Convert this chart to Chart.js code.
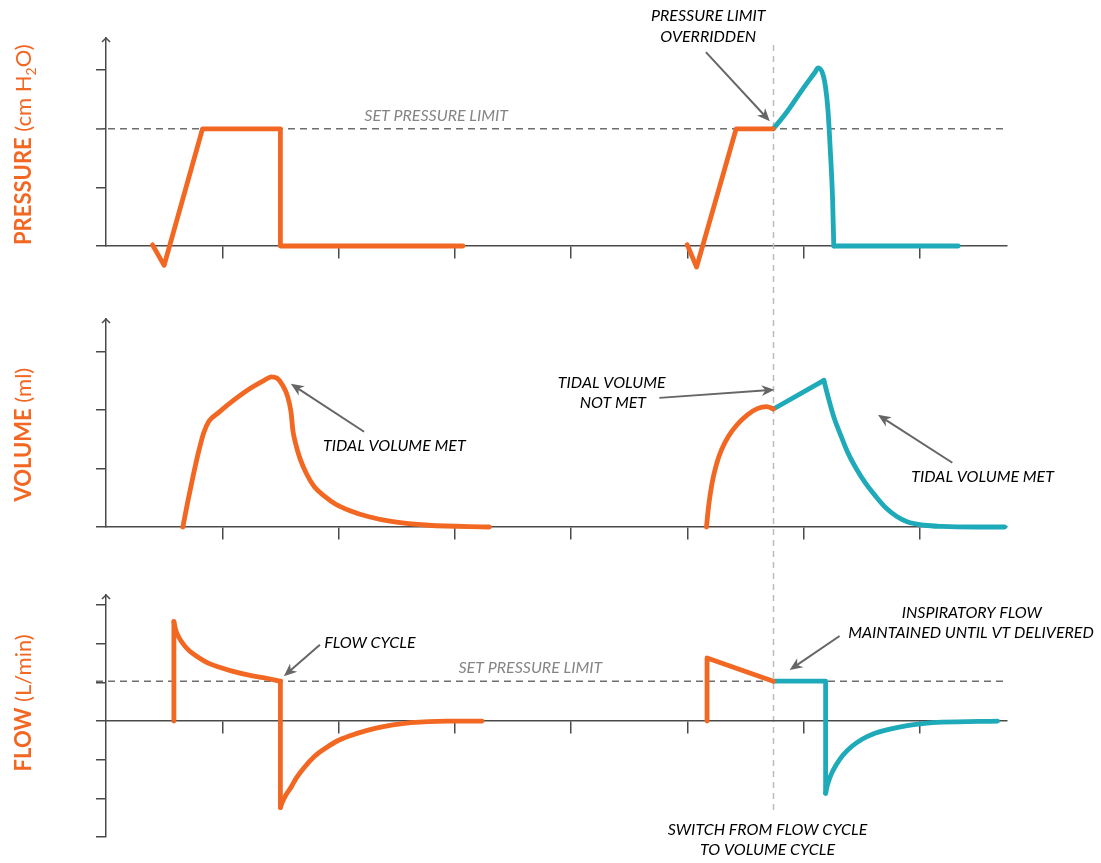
<!DOCTYPE html>
<html>
<head>
<title>Pressure, volume and flow waveforms</title>
<style>
  body { margin: 0; background: #fff; }
  #wrap { position: relative; width: 1101px; height: 863px; }
  #wrap canvas { position: absolute; left: 0; top: 0; }
</style>
</head>
<body>
<div id="wrap">
  <canvas id="pressure" width="1101" height="863"></canvas>
  <canvas id="volume" width="1101" height="863"></canvas>
  <canvas id="flow" width="1101" height="863"></canvas>
</div>

<script src="https://cdn.jsdelivr.net/npm/chart.js@4.4.0/dist/chart.umd.min.js"></script>
<script>
var ORANGE = '#f26722';
var TEAL = '#1eaab9';
var AXIS = '#4a4a4a';
var NOTE = '#000000';
var GREY = '#858585';

// time axis: one tick per unit, no labels
var xMax = 7.75;
var switchAt = 5.74;   // flow cycle -> volume cycle

// pressure (cm H2O)
var pressLimit = 2;
var press1X = [0.40, 0.50, 0.83, 1.50, 1.50, 3.07];
var press1Y = [0.02, -0.33, 2.00, 2.00, 0.00, 0.00];
var press2X = [5.00, 5.08, 5.42, 5.74];
var press2Y = [0.02, -0.36, 2.00, 2.00];
var press3X = [5.74, 5.85, 5.99, 6.10, 6.125, 6.165, 6.19, 6.21, 6.23, 6.25, 6.26];
var press3Y = [2.00, 2.27, 2.67, 2.97, 3.04, 2.94, 2.70, 2.32, 1.64, 0.79, 0.00];
var press4X = [6.26, 7.33];
var press4Y = [0, 0];

// volume (ml)
var vol1X = [0.661, 0.701, 0.748, 0.793, 0.840, 0.885, 0.963, 1.085, 1.239, 1.361, 1.422, 1.469, 1.515, 1.561,
             1.592, 1.607, 1.631, 1.669, 1.730, 1.792, 1.884, 1.976, 2.099, 2.253, 2.468, 2.775, 3.297];
var vol1Y = [0.00, 0.41, 0.86, 1.26, 1.61, 1.81, 1.95, 2.15, 2.37, 2.51, 2.57, 2.55, 2.44, 2.24,
             1.96, 1.66, 1.43, 1.17, 0.89, 0.69, 0.52, 0.39, 0.28, 0.18, 0.09, 0.03, 0.00];
var vol2X = [5.165, 5.183, 5.213, 5.249, 5.294, 5.353, 5.428, 5.517, 5.607, 5.682, 5.741];
var vol2Y = [0.00, 0.35, 0.75, 1.06, 1.32, 1.55, 1.75, 1.92, 2.03, 2.06, 2.02];
var vol3X = [5.741, 6.175];
var vol3Y = [2.02, 2.51];
var vol4X = [6.175, 6.219, 6.264, 6.324, 6.384, 6.459, 6.533, 6.623, 6.712, 6.802, 6.891, 7.041, 7.189, 7.489, 7.73];
var vol4Y = [2.51, 2.17, 1.86, 1.55, 1.26, 0.98, 0.75, 0.52, 0.32, 0.18, 0.09, 0.03, 0.01, 0.00, 0.00];

// flow (L/min)
var flowSetLine = 1.03;
var flow1X = [0.584, 0.584];
var flow1Y = [0.00, 2.57];
var flow2X = [0.584, 0.600, 0.624, 0.670, 0.716, 0.793, 0.870, 0.977, 1.085, 1.239, 1.393, 1.500];
var flow2Y = [2.57, 2.35, 2.18, 1.97, 1.82, 1.65, 1.51, 1.39, 1.29, 1.18, 1.10, 1.03];
var flow3X = [1.50, 1.50];
var flow3Y = [1.03, -2.24];
var flow4X = [1.500, 1.515, 1.546, 1.592, 1.638, 1.700, 1.792, 1.884, 2.006, 2.160, 2.314, 2.468, 2.621, 2.928, 3.235];
var flow4Y = [-2.24, -2.11, -1.92, -1.71, -1.47, -1.22, -0.92, -0.71, -0.49, -0.32, -0.19, -0.10, -0.04, 0.00, 0.00];
var flow5X = [5.17, 5.17, 5.74];
var flow5Y = [0.00, 1.63, 1.03];
var flow6X = [5.74, 6.19, 6.19];
var flow6Y = [1.03, 1.03, -1.87];
var flow7X = [6.190, 6.205, 6.235, 6.280, 6.340, 6.414, 6.503, 6.593, 6.743, 6.891, 7.041, 7.189, 7.668];
var flow7Y = [-1.87, -1.66, -1.40, -1.14, -0.88, -0.66, -0.47, -0.34, -0.21, -0.12, -0.06, -0.03, 0.00];

// callouts, placed in each panel's data units
var pressureNotes = [
  {text: 'SET PRESSURE LIMIT', x: 2.84, y: 2.22, color: GREY},
  {text: 'PRESSURE LIMIT', x: 5.18, y: 3.92},
  {text: 'OVERRIDDEN', x: 5.18, y: 3.57}
];
var pressureArrows = [{x1: 5.16, y1: 3.31, x2: 5.71, y2: 2.13}];

var volumeNotes = [
  {text: 'TIDAL VOLUME MET', x: 2.48, y: 1.39},
  {text: 'TIDAL VOLUME', x: 4.35, y: 2.47},
  {text: 'NOT MET', x: 4.36, y: 2.12},
  {text: 'TIDAL VOLUME MET', x: 7.54, y: 0.86}
];
var volumeArrows = [
  {x1: 2.22, y1: 1.63, x2: 1.59, y2: 2.45},
  {x1: 4.76, y1: 2.21, x2: 5.75, y2: 2.35},
  {x1: 7.28, y1: 1.10, x2: 6.64, y2: 1.92}
];

var flowNotes = [
  {text: 'FLOW CYCLE', x: 2.27, y: 2.02},
  {text: 'SET PRESSURE LIMIT', x: 3.65, y: 1.37, color: GREY},
  {text: 'INSPIRATORY FLOW', x: 7.447, y: 2.79},
  {text: 'MAINTAINED UNTIL VT DELIVERED', x: 7.44, y: 2.28},
  {text: 'SWITCH FROM FLOW CYCLE', x: 5.69, y: -2.82},
  {text: 'TO VOLUME CYCLE', x: 5.69, y: -3.33}
];
var flowArrows = [
  {x1: 1.84, y1: 1.97, x2: 1.53, y2: 1.16},
  {x1: 6.31, y1: 2.20, x2: 5.88, y2: 1.32}
];

var NOTE_FONT = 'italic 16px Lato, "Open Sans", sans-serif';

function pts(xs, ys) {
  return xs.map(function (x, i) { return {x: x, y: ys[i]}; });
}

function trace(xs, ys, color, curved) {
  return {
    data: pts(xs, ys),
    borderColor: color,
    borderWidth: 4.8,
    pointRadius: 0,
    fill: false,
    clip: false,
    borderCapStyle: 'round',
    borderJoinStyle: 'round',
    cubicInterpolationMode: curved ? 'monotone' : 'default',
    tension: 0
  };
}

function scalesFor(yMin, yMax) {
  return {
    x: {
      type: 'linear', min: 0, max: xMax, position: {y: 0},
      border: {display: true, color: AXIS, width: 1.5},
      grid: {
        drawOnChartArea: false, drawTicks: true, tickLength: 12, lineWidth: 1.5,
        color: function (c) { return c.tick && c.tick.value === 0 ? 'rgba(0,0,0,0)' : AXIS; }
      },
      ticks: {display: false, stepSize: 1, includeBounds: false}
    },
    y: {
      type: 'linear', min: yMin, max: yMax, position: 'left',
      border: {display: true, color: AXIS, width: 1.5},
      grid: {drawOnChartArea: false, drawTicks: true, tickLength: 10, lineWidth: 1.5, color: AXIS},
      ticks: {display: false, stepSize: 1, includeBounds: false}
    }
  };
}

function drawArrow(ctx, x1, y1, x2, y2) {
  var a = Math.atan2(y2 - y1, x2 - x1), L = 13, W = 5.5;
  ctx.save();
  ctx.strokeStyle = '#666';
  ctx.fillStyle = '#666';
  ctx.lineWidth = 2;
  ctx.beginPath();
  ctx.moveTo(x1, y1);
  ctx.lineTo(x2 - Math.cos(a) * L * 0.6, y2 - Math.sin(a) * L * 0.6);
  ctx.stroke();
  ctx.translate(x2, y2);
  ctx.rotate(a);
  ctx.beginPath();
  ctx.moveTo(0, 0);
  ctx.lineTo(-L, -W);
  ctx.lineTo(-L * 0.7, 0);
  ctx.lineTo(-L, W);
  ctx.closePath();
  ctx.fill();
  ctx.restore();
}

function drawTitle(ctx, parts, bx, cy) {
  ctx.save();
  ctx.translate(bx, cy);
  ctx.rotate(-Math.PI / 2);
  ctx.fillStyle = ORANGE;
  ctx.textBaseline = 'alphabetic';
  var total = 0;
  parts.forEach(function (p) { ctx.font = p.font; p.w = ctx.measureText(p.text).width; total += p.w; });
  var x = -total / 2;
  parts.forEach(function (p) {
    ctx.font = p.font;
    ctx.fillText(p.text, x, p.dy || 0);
    x += p.w;
  });
  ctx.restore();
}

// one plugin per panel: limit line, axis arrow, title, callouts
function panelDecor(opts) {
  return {
    id: 'panelDecor',
    beforeDatasetsDraw: function (chart) {
      var ctx = chart.ctx, a = chart.chartArea, xs = chart.scales.x, ys = chart.scales.y;
      ctx.save();
      if (opts.limit !== undefined) {
        var ly = ys.getPixelForValue(opts.limit);
        ctx.strokeStyle = '#6e6e6e';
        ctx.lineWidth = 1.5;
        ctx.setLineDash([7, 5]);
        ctx.beginPath();
        ctx.moveTo(a.left - 10, ly);
        ctx.lineTo(a.right - 2, ly);
        ctx.stroke();
      }
      if (opts.switchLine) {
        var sx = Math.round(xs.getPixelForValue(switchAt)) + 0.5;
        var top = ys.getPixelForValue(3.43);
        var bottom = flowChart.scales.y.getPixelForValue(-2.38);
        ctx.strokeStyle = '#bdbdbd';
        ctx.lineWidth = 1.5;
        ctx.setLineDash([6, 5]);
        ctx.beginPath();
        ctx.moveTo(sx, top);
        ctx.lineTo(sx, bottom);
        ctx.stroke();
      }
      ctx.restore();
    },
    afterDraw: function (chart) {
      var ctx = chart.ctx, a = chart.chartArea, xs = chart.scales.x, ys = chart.scales.y;
      ctx.save();
      // arrow tip on the y axis
      ctx.strokeStyle = AXIS;
      ctx.lineWidth = 1.5;
      ctx.beginPath();
      ctx.moveTo(a.left - 4, a.top + 4);
      ctx.lineTo(a.left, a.top);
      ctx.lineTo(a.left + 4, a.top + 4);
      ctx.stroke();

      drawTitle(ctx, opts.title, a.left - 75, ys.getPixelForValue(opts.titleAt));

      ctx.font = NOTE_FONT;
      ctx.textAlign = 'center';
      ctx.textBaseline = 'middle';
      opts.notes.forEach(function (n) {
        ctx.fillStyle = n.color || NOTE;
        ctx.fillText(n.text, xs.getPixelForValue(n.x), ys.getPixelForValue(n.y));
      });
      opts.arrows.forEach(function (r) {
        drawArrow(ctx, xs.getPixelForValue(r.x1), ys.getPixelForValue(r.y1),
                  xs.getPixelForValue(r.x2), ys.getPixelForValue(r.y2));
      });
      ctx.restore();
    }
  };
}

function makeChart(id, datasets, yMin, yMax, pad, decor) {
  return new Chart(document.getElementById(id), {
    type: 'line',
    data: {datasets: datasets},
    options: {
      responsive: false,
      animation: false,
      events: [],
      layout: {padding: pad},
      scales: scalesFor(yMin, yMax),
      plugins: {legend: {display: false}, tooltip: {enabled: false}}
    },
    plugins: [panelDecor(decor)]
  });
}

var BOLD = 'bold 22px Lato, "Open Sans", sans-serif';
var REG = '22px Lato, "Open Sans", sans-serif';
var SUB = '14px Lato, "Open Sans", sans-serif';

var flowChart = makeChart('flow', [
  trace(flow1X, flow1Y, ORANGE, false),
  trace(flow2X, flow2Y, ORANGE, true),
  trace(flow3X, flow3Y, ORANGE, false),
  trace(flow4X, flow4Y, ORANGE, true),
  trace(flow5X, flow5Y, ORANGE, false),
  trace(flow6X, flow6Y, TEAL, false),
  trace(flow7X, flow7Y, TEAL, true)
], -3, 3.26, {left: 96, right: 94, top: 595, bottom: 26}, {
  limit: flowSetLine,
  title: [{text: 'FLOW', font: BOLD}, {text: ' (L/min)', font: REG}],
  titleAt: 0.47,
  notes: flowNotes,
  arrows: flowArrows
});

var volumeChart = makeChart('volume', [
  trace(vol1X, vol1Y, ORANGE, true),
  trace(vol2X, vol2Y, ORANGE, true),
  trace(vol3X, vol3Y, TEAL, false),
  trace(vol4X, vol4Y, TEAL, true)
], 0, 3.56, {left: 96, right: 94, top: 319, bottom: 336}, {
  title: [{text: 'VOLUME', font: BOLD}, {text: ' (ml)', font: REG}],
  titleAt: 1.58,
  notes: volumeNotes,
  arrows: volumeArrows
});

var pressureChart = makeChart('pressure', [
  trace(press1X, press1Y, ORANGE, false),
  trace(press2X, press2Y, ORANGE, false),
  trace(press3X, press3Y, TEAL, true),
  trace(press4X, press4Y, TEAL, false)
], 0, 3.55, {left: 96, right: 94, top: 38, bottom: 617}, {
  limit: pressLimit,
  switchLine: true,
  title: [{text: 'PRESSURE', font: BOLD}, {text: ' (cm H', font: REG}, {text: '2', font: SUB, dy: 5}, {text: 'O)', font: REG}],
  titleAt: 1.73,
  notes: pressureNotes,
  arrows: pressureArrows
});
</script>
</body>
</html>
